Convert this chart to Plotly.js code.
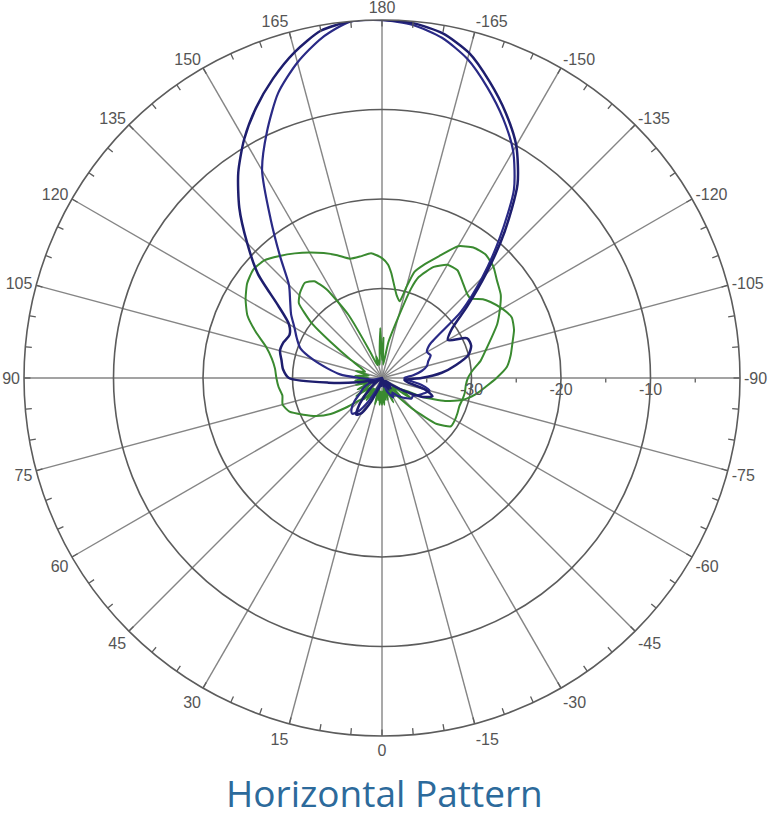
<!DOCTYPE html>
<html>
<head>
<meta charset="utf-8">
<script src="https://cdn.plot.ly/plotly-3.0.1.min.js"></script>
<style>
  html, body { margin: 0; padding: 0; background: #ffffff; }
  #chart { width: 768px; height: 819px; }
</style>
</head>
<body>
<div id="chart"></div>
<script>
// ---------- data ----------
const TITLE = "Horizontal Pattern";

const ANGLE_TICKS = [0,15,30,45,60,75,90,105,120,135,150,165,180,195,210,225,240,255,270,285,300,315,330,345];
const ANGLE_LABELS = ["0","15","30","45","60","75","90","105","120","135","150","165","180","-165","-150","-135","-120","-105","-90","-75","-60","-45","-30","-15"];
const MINOR_ANGLE_TICKS = [0,5,10,15,20,25,30,35,40,45,50,55,60,65,70,75,80,85,90,95,100,105,110,115,120,125,130,135,140,145,150,155,160,165,170,175,180,185,190,195,200,205,210,215,220,225,230,235,240,245,250,255,260,265,270,275,280,285,290,295,300,305,310,315,320,325,330,335,340,345,350,355];

const RADIAL_TICKS = [-30,-20,-10];
const RADIAL_LABELS = ["-30","-20","-10"];
const RADIAL_MINOR = [-35,-25,-15,-5];
const RADIAL_RANGE = [-40, 0];

// blue patterns (dB), sampled every 5 degrees from -180 to 180
const BLUE_THETA = [-180,-175,-170,-165,-160,-155,-150,-145,-140,-135,-130,-125,-120,-115,-110,-105,-100,-95,-90,-85,-80,-75,-70,-65,-60,-55,-50,-45,-40,-35,-30,-25,-20,-15,-10,-5,0,5,10,15,20,25,30,35,40,45,50,55,60,65,70,75,80,85,90,95,100,105,110,115,120,125,130,135,140,145,150,155,160,165,170,175,180];

const BLUE_A_R = [0,-0.2,-0.9,-2.4,-4.8,-7.3,-10.0,-13.6,-18.7,-23.6,-27.6,-30.5,-31.5,-29.5,-29.4,-30.0,-31.6,-33.3,-35.6,-37.5,-37.0,-35.0,-34.0,-35.0,-37.0,-38.5,-39.5,-39.0,-38.5,-39.5,-38.5,-39.5,-40,-39,-40,-39.5,-40,-39,-40,-39,-38.5,-37,-35.5,-35,-36,-37.5,-38.5,-39.5,-40,-39,-38.5,-39,-37.2,-34,-29.6,-28.9,-28.6,-28.2,-28.3,-28.6,-28.0,-25.8,-21.9,-18.7,-15.2,-12.0,-9.2,-6.7,-4.4,-2.3,-0.6,0,0];

const BLUE_B_R = [0,-0.4,-1.4,-3.1,-5.5,-8.0,-10.7,-14.3,-19.5,-24.2,-28.5,-33.5,-34.2,-34.0,-34.5,-34.8,-35.5,-36.5,-37.5,-37.0,-35.5,-34.5,-35.0,-35.5,-36.0,-36.0,-36.5,-37.0,-37.5,-38.0,-37.5,-38.0,-38.5,-39.5,-39.0,-40.0,-39.5,-40,-39,-40,-39.5,-38.5,-37,-35.5,-34.8,-35.2,-36,-37,-37.5,-38,-39,-40,-39,-38.5,-37.5,-35.3,-33.8,-32.0,-30.3,-29.5,-28.7,-27.6,-26.6,-25.3,-22.3,-18.3,-13.2,-9.6,-6.1,-3.5,-1.4,0,0];

// green patterns (dB)
const GREEN1_THETA = [-180,-177,-175,-170,-167,-165,-163,-160,-155,-150,-145,-140,-135,-130,-125,-120,-115,-110,-105,-100,-95,-90,-85,-80,-75,-70,-65,-60,-55,-50,-45,-40,-35,-30,-25,-20,-15,-10,-5,0,5,10,15,20,25,30,35,40,45,50,55,60,65,70,75,80,85,90,95,100,105,110,115,120,125,130,135,140,145,150,155,160,165,170,175,180];
const GREEN1_R = [-26.6,-27.3,-28.2,-30.6,-31.2,-29.5,-27.6,-26.6,-25.0,-23.0,-22.2,-22.0,-22.4,-23.2,-23.8,-24.8,-25.8,-27.0,-28.0,-28.8,-29.8,-30.4,-30.6,-30.6,-30.7,-30.8,-30.7,-30.6,-30.6,-32,-35,-37.5,-38.5,-37.5,-39,-38,-39.5,-37.5,-38.5,-37,-38.5,-37.5,-39,-38,-39,-37.5,-38.5,-37,-36.5,-35,-33,-31.5,-30.3,-29.0,-28.5,-28.7,-28.4,-28.2,-28.0,-27.5,-26.6,-25.0,-23.4,-22.4,-21.6,-21.2,-21.4,-22.2,-23.0,-23.8,-24.6,-25.4,-26.2,-26.2,-26.0,-26.6];

const GREEN2_THETA = [-180,-178,-175,-170,-165,-162,-160,-155,-150,-145,-140,-135,-132,-128,-125,-120,-115,-110,-106,-100,-95,-90,-85,-80,-75,-70,-65,-60,-55,-50,-45,-40,-35,-30,-25,-20,-15,-10,-5,0,5,10,15,20,25,30,35,40,45,50,55,60,65,70,75,80,85,90,95,100,105,110,115,120,125,128,132,136,141,145,148,152,156,160,165,170,175,178,180];
const GREEN2_R = [-38,-35.5,-38.5,-36,-33,-29.5,-28.0,-26.3,-25.4,-25.3,-26.0,-26.6,-26.7,-25.7,-25.2,-24.5,-24.0,-24.3,-24.8,-25.4,-26.0,-27.2,-28.4,-29.4,-30.6,-32.5,-35,-37.5,-36,-38.5,-37,-39,-37.5,-39,-37,-38.5,-37.5,-39,-37,-38.5,-37,-38.5,-37,-39,-37.5,-38.5,-37,-38.5,-37,-38.5,-36.5,-38.5,-37,-38.5,-37,-38.5,-37,-38.5,-37,-38.5,-37,-38,-37.5,-36,-33,-30,-27.5,-26.8,-26.3,-26.8,-28.3,-32,-37,-38.5,-37.5,-38.5,-37,-34.4,-38];

// ---------- styles ----------
const NAVY = "#1e1e6e";
const BLUE = "#2a2a86";
const GREEN = "#3a8a30";
const GRID_DARK = "#5c5c5c";
const GRID_LIGHT = "#858585";
const LABEL = "#555555";
const TICK_FONT = {family: "Liberation Sans, Arial, sans-serif", size: 16, color: LABEL};

const traces = [
  {type: "scatterpolar", mode: "lines", theta: GREEN1_THETA, r: GREEN1_R, line: {color: GREEN, width: 2, shape: "spline", smoothing: 0.5}, subplot: "polar", hoverinfo: "skip"},
  {type: "scatterpolar", mode: "lines", theta: GREEN2_THETA, r: GREEN2_R, line: {color: GREEN, width: 2, shape: "spline", smoothing: 0.5}, subplot: "polar", hoverinfo: "skip"},
  {type: "scatterpolar", mode: "lines", theta: BLUE_THETA, r: BLUE_B_R, line: {color: BLUE, width: 2.2, shape: "spline", smoothing: 0.7}, subplot: "polar", hoverinfo: "skip"},
  {type: "scatterpolar", mode: "lines", theta: BLUE_THETA, r: BLUE_A_R, line: {color: NAVY, width: 2.5, shape: "spline", smoothing: 0.7}, subplot: "polar", hoverinfo: "skip"},
  {type: "scatterpolar", mode: "lines", theta: [], r: [], subplot: "polar2", hoverinfo: "skip"}
];

const dom = {x: [24/768, 740/768], y: [1 - 736/819, 1 - 20/819]};

const layout = {
  width: 768, height: 819,
  margin: {l: 0, r: 0, t: 0, b: 0},
  paper_bgcolor: "#ffffff",
  showlegend: false,
  hovermode: false,
  polar: {
    domain: dom,
    bgcolor: "#ffffff",
    angularaxis: {
      rotation: 270, direction: "clockwise",
      tickmode: "array", tickvals: ANGLE_TICKS, ticktext: ANGLE_LABELS,
      ticks: "", tickfont: TICK_FONT,
      showgrid: true, gridcolor: GRID_LIGHT, gridwidth: 1.4,
      showline: true, linecolor: GRID_DARK, linewidth: 1.6
    },
    radialaxis: {
      range: RADIAL_RANGE, angle: 0, side: "clockwise",
      tickmode: "array", tickvals: RADIAL_TICKS, ticktext: RADIAL_LABELS,
      ticks: "", tickfont: TICK_FONT,
      showgrid: true, gridcolor: GRID_DARK, gridwidth: 1.6,
      showline: false
    }
  },
  polar2: {
    domain: dom,
    bgcolor: "rgba(0,0,0,0)",
    angularaxis: {
      rotation: 270, direction: "clockwise",
      tickmode: "array", tickvals: MINOR_ANGLE_TICKS,
      ticks: "inside", ticklen: 6, tickwidth: 1.3, tickcolor: GRID_DARK,
      showticklabels: false, showgrid: false, showline: false
    },
    radialaxis: {
      range: RADIAL_RANGE, angle: 0,
      tickmode: "array", tickvals: RADIAL_MINOR,
      ticks: "outside", ticklen: 4, tickwidth: 1.3, tickcolor: GRID_DARK,
      showticklabels: false, showgrid: false, showline: false
    }
  },
  annotations: [{
    text: TITLE, xref: "paper", yref: "paper", x: 0.5, y: 0,
    xanchor: "center", yanchor: "bottom", showarrow: false, borderpad: 0,
    font: {family: "Open Sans, sans-serif", size: 37, color: "#2c6a9b"}
  }]
};

Plotly.newPlot("chart", traces, layout, {displayModeBar: false, staticPlot: true});
</script>
</body>
</html>
